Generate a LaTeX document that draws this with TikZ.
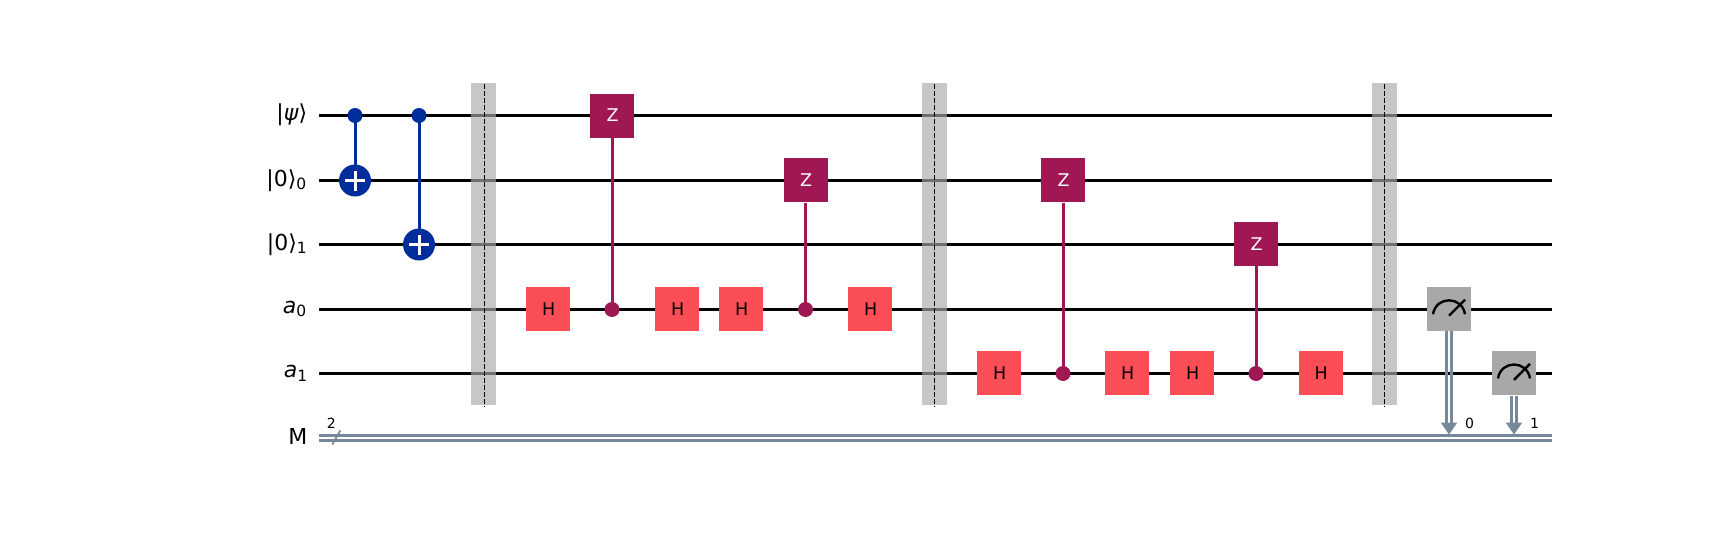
\documentclass[tikz,border=0pt]{standalone}
\usepackage{fontspec}
\setmainfont{DejaVu Sans}
\usetikzlibrary{calc}
\definecolor{cxblue}{HTML}{002D9C}
\definecolor{zpurple}{HTML}{9F1853}
\definecolor{hred}{HTML}{FA4D56}
\definecolor{measgray}{HTML}{A8A8A8}
\definecolor{classic}{HTML}{778899}
\definecolor{barriergray}{HTML}{ABABAB}
\newcommand{\gatefont}{\fontsize{17.5}{20}\selectfont}
\newcommand{\lblfont}{\fontsize{22}{26}\selectfont}
\newcommand{\subfont}{\fontsize{15.5}{18}\selectfont}
\newcommand{\smallfont}{\fontsize{14}{17}\selectfont}
\newcommand{\sbs}[1]{\raisebox{-3.2pt}{\subfont #1}}
\newcommand{\gt}[1]{\raisebox{0.8pt}{\hspace{1.2pt}#1}}
\tikzset{
  wire/.style={draw=black,line width=3pt},
  clwire/.style={draw=classic,line width=3pt},
  hgate/.style={fill=hred,text=black,minimum size=44pt,inner sep=0pt,font=\gatefont},
  zgate/.style={fill=zpurple,text=white,minimum size=44pt,inner sep=0pt,font=\gatefont},
  measgate/.style={fill=measgray,minimum size=44pt,inner sep=0pt},
  cxdot/.style={circle,fill=cxblue,minimum size=15pt,inner sep=0pt},
  zdot/.style={circle,fill=zpurple,minimum size=15pt,inner sep=0pt},
  target/.style={circle,fill=cxblue,minimum size=32pt,inner sep=0pt},
  cxline/.style={draw=cxblue,line width=3pt},
  zline/.style={draw=zpurple,line width=3pt},
  plusarm/.style={draw=white,line width=3pt},
  barrier/.style={fill=barriergray,fill opacity=.655,minimum width=25pt,minimum height=322pt,inner sep=0pt},
  barrierline/.style={draw=black,line width=1pt,dash pattern=on 5pt off 2pt},
  qlabel/.style={anchor=east,inner sep=0pt,font=\lblfont},
  tiny label/.style={inner sep=0pt,font=\smallfont},
  needle/.style={draw=black,line width=2.4pt}
}
\begin{document}
\begin{tikzpicture}[x=1pt,y=-1pt]
\useasboundingbox (0,0) rectangle (1733,535);
\fill[white] (0,0) rectangle (1733,535);
% wire ends
\foreach \n/\y in {0/115.5,1/180.5,2/244.5,3/309.5,4/373.5}{
  \coordinate (ws\n) at (319,\y);
  \coordinate (we\n) at (1552,\y);
  \draw[wire] (ws\n) -- (we\n);
}
\coordinate (cs0) at (319,435.5);
\coordinate (ce0) at (1552,435.5);
\coordinate (cs1) at (319,440.5);
\coordinate (ce1) at (1552,440.5);
\draw[clwire] (cs0) -- (ce0);
\draw[clwire] (cs1) -- (ce1);
% labels
\node[qlabel] (lpsi) at (307.5,115) {|\textit{ψ}⟩};
\node[qlabel] (lz0) at (306.5,180.3) {|0⟩\sbs{0}};
\node[qlabel] (lz1) at (307,244.6) {|0⟩\sbs{1}};
\node[qlabel] (la0) at (306.5,309.2) {\textit{a}\sbs{0}};
\node[qlabel] (la1) at (307.5,373.4) {\textit{a}\sbs{1}};
\node[qlabel] (lm) at (307.5,436) {M};
% register size
\coordinate (sl0) at (332.3,444.5);
\coordinate (sl1) at (340.3,430.5);
\draw[draw=classic,line width=1.8pt] (sl0) -- (sl1);
\node[tiny label] (size) at (331.3,423) {2};
% CX
\node[cxdot] (c1) at (355,115.5) {};
\node[target] (t1) at (355,180.5) {};
\draw[cxline] ([xshift=.5pt]c1.center) -- ([xshift=.5pt]t1.center);
\draw[plusarm] ([xshift=-10pt]t1.center) -- ([xshift=10pt]t1.center);
\draw[plusarm] ([xshift=.5pt,yshift=-10pt]t1.center) -- ([xshift=.5pt,yshift=10pt]t1.center);
\node[cxdot] (c2) at (419,115.5) {};
\node[target] (t2) at (419,244.5) {};
\draw[cxline] ([xshift=.5pt]c2.center) -- ([xshift=.5pt]t2.center);
\draw[plusarm] ([xshift=-10pt]t2.center) -- ([xshift=10pt]t2.center);
\draw[plusarm] ([xshift=.5pt,yshift=-10pt]t2.center) -- ([xshift=.5pt,yshift=10pt]t2.center);
% first block
\node[hgate] (h1) at (548,309.2) {\gt{H}};
\node[zgate] (z1) at (612,115.8) {\gt{Z}};
\node[zdot] (d1) at (612,309.5) {};
\draw[zline] ([xshift=.5pt]z1.south) -- ([xshift=.5pt]d1.center);
\node[hgate] (h2) at (677,309.2) {\gt{H}};
\node[hgate] (h3) at (741,309.2) {\gt{H}};
\node[zgate] (z2) at (805.5,180.3) {\gt{Z}};
\node[zdot] (d2) at (805.5,309.5) {};
\draw[zline] (z2.south) -- (d2.center);
\node[hgate] (h4) at (870,309.2) {\gt{H}};
% second block
\node[hgate] (h5) at (999,373.4) {\gt{H}};
\node[zgate] (z3) at (1063,180.3) {\gt{Z}};
\node[zdot] (d3) at (1063,373.5) {};
\draw[zline] ([xshift=.5pt]z3.south) -- ([xshift=.5pt]d3.center);
\node[hgate] (h6) at (1127,373.4) {\gt{H}};
\node[hgate] (h7) at (1192,373.4) {\gt{H}};
\node[zgate] (z4) at (1256,244.2) {\gt{Z}};
\node[zdot] (d4) at (1256,373.5) {};
\draw[zline] ([xshift=.5pt]z4.south) -- ([xshift=.5pt]d4.center);
\node[hgate] (h8) at (1320.5,373.4) {\gt{H}};
% barriers
\foreach \n/\x in {1/483.5,2/934,3/1384}{
  \node[barrier] (b\n) at (\x,244) {};
  \draw[barrierline] ([xshift=.5pt,yshift=-1pt]b\n.north) -- ([xshift=.5pt,yshift=-1pt]b\n.south);
}
% measures
\foreach \m/\x/\y/\k in {0/1449/309.2/0,1/1514/373.4/1}{
  \node[measgate] (m\m) at (\x,\y) {};
  \draw[needle,shift={(m\m.center)}] (-16,5) .. controls (-13,-13.5) and (13,-13.5) .. (16,5);
  \draw[needle,shift={(m\m.center)}] (0,6.5) -- (16,-9.5);
  \coordinate (tip\m) at (\x,434.5);
  \coordinate (top\m) at (\x,424);
  \draw[clwire] ([xshift=-2.5pt]m\m.south) -- ([xshift=-2.5pt]top\m);
  \draw[clwire] ([xshift=2.5pt]m\m.south) -- ([xshift=2.5pt]top\m);
  \fill[classic] (tip\m) -- ([xshift=-8.3pt,yshift=1.5pt]top\m) -- ([xshift=8.3pt,yshift=1.5pt]top\m) -- cycle;
  \node[tiny label] (k\m) at ($(top\m)+(20.5,-1)$) {\k};
}
\end{tikzpicture}
\end{document}
